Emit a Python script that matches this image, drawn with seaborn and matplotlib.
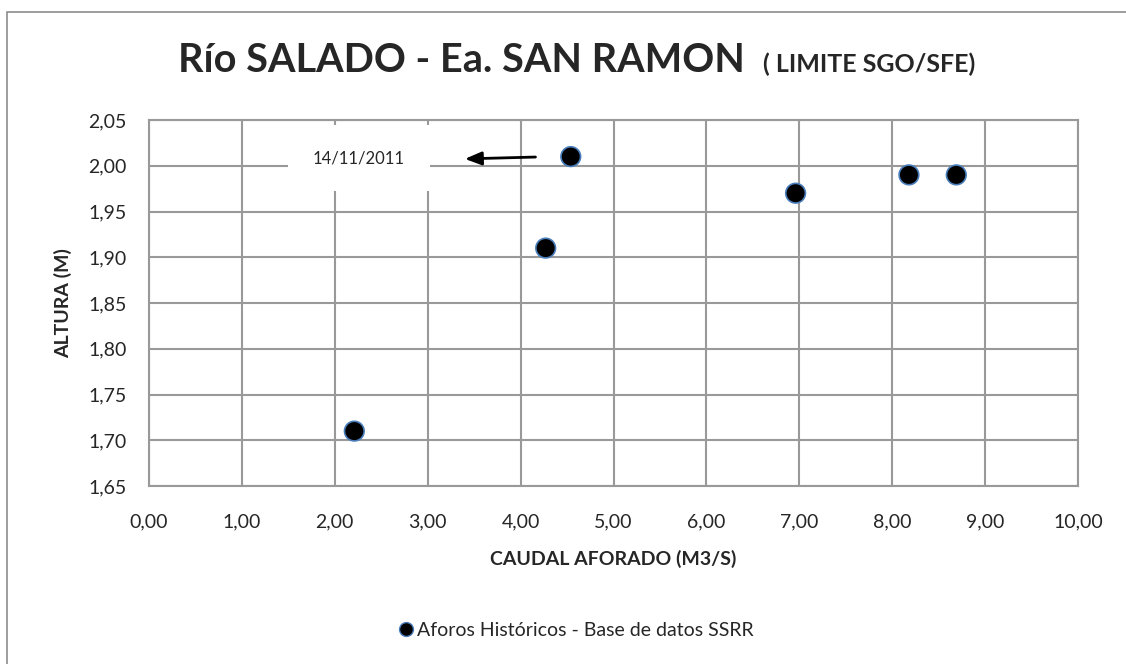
import seaborn as sns
import matplotlib.pyplot as plt
import pandas as pd
from matplotlib.patches import Rectangle

caudal = [2.21, 4.27, 4.54, 6.96, 8.18, 8.69]
altura = [1.71, 1.91, 2.01, 1.97, 1.99, 1.99]
serie = 'Aforos Históricos - Base de datos SSRR'
x_ticks = [0, 1, 2, 3, 4, 5, 6, 7, 8, 9, 10]
y_ticks = [1.65, 1.70, 1.75, 1.80, 1.85, 1.90, 1.95, 2.00, 2.05]
fecha = '14/11/2011'

data = pd.DataFrame({'caudal': caudal, 'altura': altura, 'serie': serie})

sns.set_style('white')
plt.rcParams['font.family'] = ['Lato', 'DejaVu Sans']

W, H = 1126, 664
fig = plt.figure(figsize=(W / 100, H / 100), dpi=100)
ax = fig.add_axes([149 / W, 1 - 486 / H, (1078 - 149) / W, (486 - 120) / H])

# chart border
fig.patches.append(Rectangle((7 / W, -0.1), 1.2, 1.1 - 12 / H, transform=fig.transFigure,
                             fill=False, edgecolor='#8c8c8c', linewidth=1.2))

sns.scatterplot(data=data, x='caudal', y='altura', hue='serie', palette=['black'],
                s=200, edgecolor='#4a7ebb', linewidth=1.2, ax=ax, zorder=5, legend=False)

ax.set_xlim(0, 10)
ax.set_ylim(1.65, 2.05)
ax.set_xticks(x_ticks)
ax.set_xticklabels([f'{v:.2f}'.replace('.', ',') for v in x_ticks])
ax.set_yticks(y_ticks)
ax.set_yticklabels([f'{v:.2f}'.replace('.', ',') for v in y_ticks])
ax.grid(True, color='#999999', linewidth=1.5)
ax.set_axisbelow(True)
for s in ax.spines.values():
    s.set_color('#999999')
    s.set_linewidth(1.5)
ax.tick_params(axis='both', length=8, width=1.5, color='#999999', labelsize=14, direction='out')
ax.tick_params(axis='x', pad=12)
ax.tick_params(axis='y', pad=8)

ax.set_xlabel('CAUDAL AFORADO (M3/S)', fontsize=14, fontweight='bold', labelpad=14)
ax.set_ylabel('ALTURA (M)', fontsize=14, fontweight='bold', labelpad=12)

# annotation
ax.text(2.26, 2.008, fecha, fontsize=12, ha='center', va='center', zorder=4,
        bbox=dict(boxstyle='square,pad=1.5', facecolor='white', edgecolor='none'))
ax.annotate('', xy=(3.37, 2.0074), xytext=(4.19, 2.0096),
            arrowprops=dict(arrowstyle='-|>,head_length=1.0,head_width=0.4', color='black', lw=2),
            zorder=6)

# title
fig.text(745 / W, 1 - 72 / H, 'Río SALADO - Ea. SAN RAMON', fontsize=28.5, fontweight='bold',
         ha='right', va='baseline')
fig.text(763 / W, 1 - 72 / H, '( LIMITE SGO/SFE)', fontsize=18, fontweight='bold',
         ha='left', va='baseline')

# legend
handle = plt.Line2D([], [], marker='o', linestyle='', markerfacecolor='black',
                    markeredgecolor='#4a7ebb', markersize=10)
fig.legend([handle], [serie], loc='center', bbox_to_anchor=(575 / W, 1 - 630 / H),
           frameon=False, fontsize=14, handletextpad=0.1, handlelength=1)

fig.savefig('out.png', dpi=100)
